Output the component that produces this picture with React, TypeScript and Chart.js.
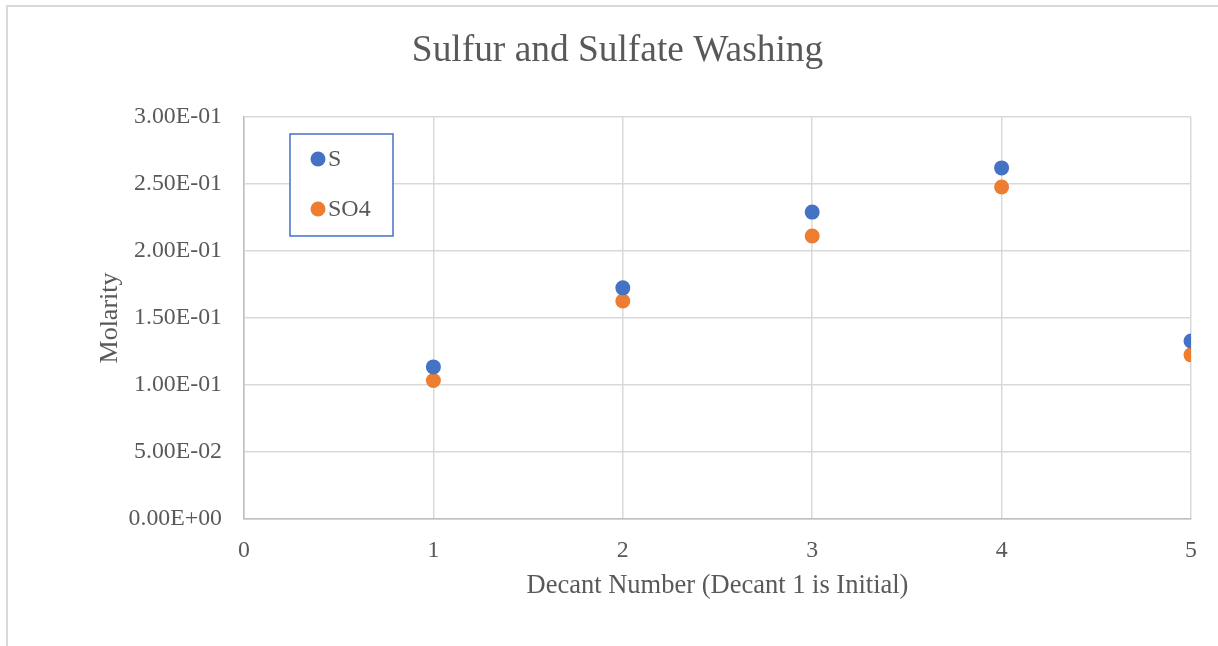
import React, { useEffect, useRef } from "react";
import { Chart, registerables } from "chart.js";

Chart.register(...registerables);

const decants = [1, 2, 3, 4, 5];
const sValues = [0.1135, 0.1725, 0.229, 0.262, 0.1328];
const so4Values = [0.1033, 0.1627, 0.2112, 0.2478, 0.1225];
const seriesNames = ["S", "SO4"];
const chartTitle = "Sulfur and Sulfate Washing";
const xTitle = "Decant Number (Decant 1 is Initial)";
const yTitle = "Molarity";

const TEXT = "#595959";
const FONT = "'Liberation Serif', 'Times New Roman', serif";
const BLUE = "#4472C4";
const ORANGE = "#ED7D31";

function sci(v: number): string {
  const s = Number(v).toExponential(2);
  const [m, e] = s.split("e");
  const n = parseInt(e, 10);
  const sign = n < 0 ? "-" : "+";
  const abs = Math.abs(n).toString().padStart(2, "0");
  return `${m}E${sign}${abs}`;
}

const legendBox = {
  id: "legendBox",
  afterDraw(chart: any) {
    const { ctx, chartArea } = chart;
    const x0 = chartArea.left + 46;
    const y0 = chartArea.top + 17;
    const w = 103;
    const h = 102;
    ctx.save();
    ctx.fillStyle = "#ffffff";
    ctx.fillRect(x0, y0, w, h);
    ctx.strokeStyle = BLUE;
    ctx.lineWidth = 1.5;
    ctx.strokeRect(x0, y0, w, h);
    const colors = [BLUE, ORANGE];
    chart.data.datasets.forEach((ds: any, i: number) => {
      const cy = y0 + 25 + i * 50;
      ctx.beginPath();
      ctx.fillStyle = colors[i];
      ctx.arc(x0 + 28, cy, 7.5, 0, Math.PI * 2);
      ctx.fill();
      ctx.fillStyle = TEXT;
      ctx.font = `24px ${FONT}`;
      ctx.textBaseline = "middle";
      ctx.textAlign = "left";
      ctx.fillText(ds.label, x0 + 38, cy + 1);
    });
    ctx.restore();
  },
};

export default function App() {
  const ref = useRef<HTMLCanvasElement | null>(null);
  useEffect(() => {
    if (!ref.current) return;
    const chart = new Chart(ref.current, {
      type: "scatter",
      data: {
        datasets: [
          {
            label: seriesNames[0],
            data: decants.map((x, i) => ({ x, y: sValues[i] })),
            backgroundColor: BLUE,
            borderColor: BLUE,
            pointRadius: 7.5,
            pointBorderWidth: 0,
          },
          {
            label: seriesNames[1],
            data: decants.map((x, i) => ({ x, y: so4Values[i] })),
            backgroundColor: ORANGE,
            borderColor: ORANGE,
            pointRadius: 7.5,
            pointBorderWidth: 0,
          },
        ],
      },
      options: {
        responsive: false,
        animation: false,
        layout: { padding: { left: 44, right: 27, top: 0, bottom: 0 } },
        plugins: {
          legend: { display: false },
          tooltip: { enabled: false },
          title: {
            display: true,
            text: chartTitle,
            color: TEXT,
            font: { family: FONT, size: 37.4, weight: "normal", lineHeight: 1.2 },
            padding: { top: 28.5, bottom: 43.6 },
          },
        },
        scales: {
          x: {
            type: "linear",
            min: 0,
            max: 5,
            ticks: {
              stepSize: 1,
              color: TEXT,
              padding: 17.5,
              font: { family: FONT, size: 23.8, lineHeight: 1.2 },
            },
            grid: { color: "#d9d9d9", lineWidth: 1.5, drawTicks: false },
            border: { color: "#bfbfbf", width: 1.5 },
            title: {
              display: true,
              text: xTitle,
              color: TEXT,
              font: { family: FONT, size: 26.5, lineHeight: 1.2 },
              padding: { top: 0, bottom: 44 },
            },
            afterFit(scale: any) {
              scale.height = 127;
            },
          },
          y: {
            type: "linear",
            min: 0,
            max: 0.3,
            ticks: {
              stepSize: 0.05,
              color: TEXT,
              padding: 22,
              font: { family: FONT, size: 23.8, lineHeight: 1.2 },
              callback: (v: any) => sci(Number(v)),
            },
            grid: { color: "#d9d9d9", lineWidth: 1.5, drawTicks: false },
            border: { color: "#bfbfbf", width: 1.5 },
            title: {
              display: true,
              text: yTitle,
              color: TEXT,
              font: { family: FONT, size: 26, lineHeight: 1.2 },
              padding: { top: 50.4, bottom: 0 },
            },
            afterFit(scale: any) {
              scale.width = 200;
            },
          },
        },
      },
      plugins: [legendBox],
    });
    return () => chart.destroy();
  }, []);

  return (
    <div
      style={{
        position: "fixed",
        left: 0,
        top: 0,
        width: 1218,
        height: 646,
        overflow: "hidden",
        background: "#ffffff",
      }}
    >
      <div
        style={{
          position: "absolute",
          left: 6,
          top: 5,
          width: 1400,
          height: 800,
          borderLeft: "2px solid #d9d9d9",
          borderTop: "2px solid #d9d9d9",
          pointerEvents: "none",
        }}
      />
      <canvas
        ref={ref}
        width={1218}
        height={646}
        style={{ position: "absolute", left: 0, top: 0, width: 1218, height: 646 }}
      />
    </div>
  );
}
